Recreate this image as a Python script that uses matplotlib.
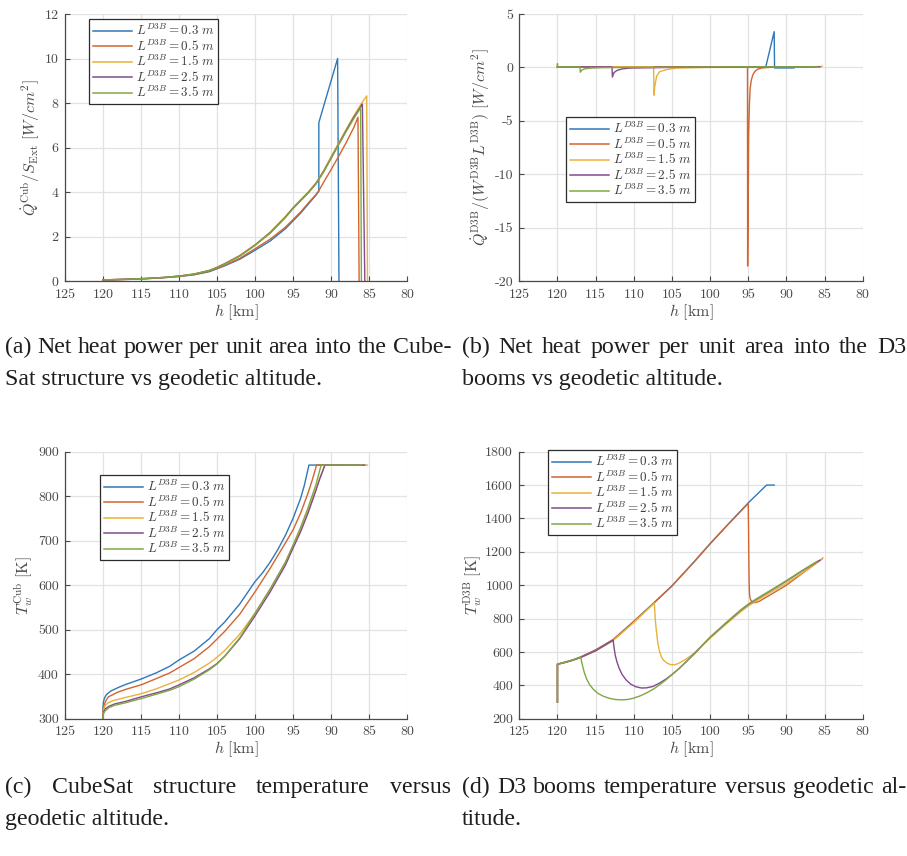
import matplotlib
matplotlib.use("Agg")
import matplotlib.pyplot as plt
from matplotlib.lines import Line2D

plt.rcParams.update({
    "mathtext.fontset": "cm",
    "axes.unicode_minus": False,
    "font.family": "serif",
    "font.serif": ["cmr10", "DejaVu Serif"],
    "axes.formatter.use_mathtext": True,
})

# ---------------------------------------------------------------- data
boom_lengths = ["0.3", "0.5", "1.5", "2.5", "3.5"]
colors = ["#2f78b8", "#d2652f", "#e8b23c", "#834a8c", "#7ea843"]

x_ticks = [125, 120, 115, 110, 105, 100, 95, 90, 85, 80]

# (a) net heat power per unit area into the CubeSat structure [W/cm^2]
h_qcub_03 = [120, 118, 116, 114, 112, 110, 108, 106, 105, 104, 102, 100, 98, 96,
             95, 94, 93, 92, 91.6, 91.6, 89.13, 88.95]
qcub_03 = [0.04, 0.06, 0.08, 0.11, 0.15, 0.20, 0.28, 0.42, 0.55, 0.68, 0.98, 1.38,
           1.80, 2.35, 2.70, 3.05, 3.45, 3.85, 4.03, 7.12, 10.0, 0.0]
h_qcub_05 = [120, 118, 116, 114, 112, 110, 108, 106, 105, 104, 102, 100, 98, 96,
             95, 94, 93, 92, 91.6, 91, 90, 89, 88, 87, 86.45, 86.3]
qcub_05 = [0.04, 0.06, 0.08, 0.11, 0.15, 0.21, 0.29, 0.44, 0.57, 0.70, 1.02, 1.45,
           1.88, 2.42, 2.76, 3.10, 3.50, 3.88, 4.06, 4.42, 5.00, 5.60, 6.22, 6.90,
           7.36, 0.0]
h_qcub_15 = [120, 118, 116, 114, 112, 110, 108, 106, 105, 104, 102, 100, 98, 96,
             95, 94, 93, 92, 91, 90, 89, 88, 87, 86, 85.3, 85.2]
qcub_15 = [0.05, 0.07, 0.09, 0.12, 0.16, 0.22, 0.32, 0.48, 0.62, 0.78, 1.15, 1.63,
           2.20, 2.90, 3.30, 3.65, 4.00, 4.40, 4.95, 5.58, 6.20, 6.82, 7.42, 7.98,
           8.32, 0.0]
h_qcub_25 = [120, 118, 116, 114, 112, 110, 108, 106, 105, 104, 102, 100, 98, 96,
             95, 94, 93, 92, 91, 90, 89, 88, 87, 86, 85.87, 85.55]
qcub_25 = [0.05, 0.07, 0.09, 0.12, 0.16, 0.22, 0.31, 0.47, 0.61, 0.77, 1.13, 1.61,
           2.17, 2.87, 3.27, 3.62, 3.97, 4.37, 4.90, 5.52, 6.14, 6.76, 7.36, 7.88,
           7.95, 0.0]
h_qcub_35 = [120, 118, 116, 114, 112, 110, 108, 106, 105, 104, 102, 100, 98, 96,
             95, 94, 93, 92, 91, 90, 89, 88, 87, 86.1, 86.0]
qcub_35 = [0.05, 0.07, 0.09, 0.12, 0.16, 0.22, 0.31, 0.47, 0.60, 0.76, 1.12, 1.60,
           2.15, 2.85, 3.25, 3.60, 3.95, 4.35, 4.88, 5.50, 6.12, 6.72, 7.30, 7.78,
           0.0]

# (b) net heat power per unit area into the D3 booms [W/cm^2]
h_qd3b_03 = [120, 110, 100, 92.7, 91.6, 91.55, 89.0]
qd3b_03 = [0.05, 0.05, 0.05, 0.05, 3.35, -0.05, -0.05]
h_qd3b_05 = [120, 100, 95.1, 95.08, 95.0, 94.95, 94.85, 94.75, 94.6, 94.4, 94.1,
             93.7, 93.2, 92.0, 86.3]
qd3b_05 = [0.05, 0.05, 0.05, -18.6, -12.5, -6.5, -3.5, -2.0, -1.2, -0.7, -0.35,
           -0.15, -0.05, 0.02, 0.05]
h_qd3b_15 = [120, 107.4, 107.35, 107.25, 107.0, 106.6, 105.7, 104.4, 100, 90,
             85.5, 85.3]
qd3b_15 = [0.05, 0.05, -2.6, -1.8, -0.8, -0.4, -0.2, -0.06, 0.0, 0.03, 0.08, 0.12]
h_qd3b_25 = [120, 112.85, 112.8, 112.6, 112.25, 111.6, 110.5, 105, 95, 85.6]
qd3b_25 = [0.05, 0.05, -0.9, -0.5, -0.3, -0.15, -0.06, 0.0, 0.03, 0.05]
h_qd3b_35 = [120.05, 120.0, 119.95, 117.05, 117.0, 116.8, 116.4, 115.5, 114, 105,
             95, 86.0]
qd3b_35 = [0.0, 0.35, 0.05, 0.05, -0.45, -0.25, -0.12, -0.06, -0.02, 0.02, 0.05,
           0.05]

# (c) CubeSat structure wall temperature [K]
h_tcub_03 = [120, 120, 119.95, 119.85, 119.7, 119.5, 119.2, 119, 118, 117, 115, 113,
             111.2, 110, 108, 106, 105, 104, 102, 100, 99, 98, 97, 96, 95, 94, 93.5,
             92.9, 88.95]
tcub_03 = [300, 326, 336, 344, 350, 355, 359, 362, 370, 377, 389, 403, 418, 432,
           452, 480, 500, 517, 558, 608, 628, 652, 680, 712, 750, 795, 825, 870, 870]
h_tcub_05 = [120, 120, 119.9, 119.8, 119.6, 119.3, 118, 117, 115, 113, 111.2, 110,
             108, 106, 105, 104, 102, 100, 98, 96, 95, 94, 93, 92.4, 91.9, 86.3]
tcub_05 = [300, 318, 327, 333, 341, 349, 360, 366, 376, 390, 403, 415, 435, 462,
           479, 496, 535, 585, 638, 695, 724, 762, 808, 840, 870, 870]
h_tcub_15 = [120, 120, 119.9, 119.7, 119.3, 118.6, 117, 115, 113, 111.2, 110, 108,
             106, 105, 104, 102, 100, 98, 96, 95, 94, 93, 92, 91.5, 90.8, 85.2]
tcub_15 = [300, 311, 321, 330, 336, 341, 348, 356, 367, 379, 387, 404, 425, 438,
           453, 490, 537, 590, 650, 688, 725, 768, 815, 840, 870, 870]
h_tcub_25 = [120, 120, 119.9, 119.7, 119.2, 118.5, 117, 115, 113, 111.2, 110, 108,
             106, 105, 104, 102, 100, 98, 96, 95, 94, 93, 92, 91.5, 90.8, 85.55]
tcub_25 = [300, 308, 316, 322, 328, 333, 339, 349, 358, 367, 376, 392, 412, 424,
           440, 480, 531, 585, 645, 683, 720, 763, 812, 838, 870, 870]
h_tcub_35 = [120, 120, 119.9, 119.7, 119.2, 118.5, 117, 115, 113, 111.2, 110, 108,
             106, 105, 104, 102, 100, 98, 96, 95, 94, 93, 92, 91.3, 86.0]
tcub_35 = [300, 306, 313, 318, 325, 330, 336, 345, 355, 364, 372, 389, 410, 423,
           440, 482, 537, 592, 652, 690, 730, 775, 825, 870, 870]

# (d) D3 booms wall temperature [K]
h_td3b_03 = [120, 120, 119, 118, 117, 115, 112.7, 110, 107.3, 105, 102, 100, 97.5,
             95, 93.5, 92.6, 91.6]
td3b_03 = [300, 527, 539, 552, 569, 612, 674, 783, 897, 996, 1145, 1249, 1372,
           1493, 1560, 1600, 1600]
h_td3b_05 = [120, 120, 119, 118, 117, 115, 112.7, 110, 107.3, 105, 102, 100, 97.5,
             95, 94.97, 94.93, 94.9, 94.87, 94.83, 94.75, 94.6, 94.4, 94.17, 93.8,
             93.5, 92, 90, 88, 86.3, 85.3]
td3b_05 = [300, 527, 539, 552, 569, 611, 673, 782, 896, 995, 1144, 1248, 1371,
           1490, 1380, 1200, 1080, 996, 945, 920, 905, 898, 895, 899, 905, 945,
           1000, 1068, 1125, 1158]
h_td3b_15 = [120, 120, 119, 118, 117, 115, 112.7, 110, 107.3, 107.25, 107.2, 107.1,
             107.0, 106.85, 106.65, 106.4, 106.1, 105.7, 105.3, 105.0, 104.6, 104.2,
             103.8, 103.3, 102.7, 102, 100, 98, 96, 95, 94, 92, 90, 88, 86, 85.2]
td3b_15 = [300, 525, 537, 550, 566, 607, 668, 776, 893, 850, 805, 755, 712, 655,
           608, 573, 550, 535, 526, 523, 524, 530, 540, 553, 572, 597, 682, 763, 840,
           875, 905, 958, 1012, 1072, 1133, 1164]
h_td3b_25 = [120, 120, 119, 118, 117, 115, 112.7, 112.65, 112.55, 112.4, 112.2,
             111.9, 111.5, 111.0, 110.4, 109.7, 109.0, 108.3, 107.5, 106.6, 105.8,
             105, 104, 103.1, 102, 101, 100, 98, 96, 95, 94, 92, 90, 88, 86, 85.6]
td3b_25 = [300, 526, 537, 550, 566, 607, 670, 650, 615, 575, 540, 500, 463, 432,
           407, 391, 384, 385, 393, 414, 437, 464, 503, 543, 592, 641, 688, 770,
           850, 884, 914, 969, 1025, 1084, 1140, 1150]
h_td3b_35 = [120, 120, 119, 118, 116.94, 116.85, 116.7, 116.5, 116.2, 115.8, 115.3,
             114.7, 114.0, 113.2, 112.4, 111.6, 110.8, 110.1, 109.2, 108.3, 107.4,
             106.6, 105.8, 105, 104, 103.1, 102, 101, 100, 98, 96, 95, 94, 92, 90,
             88, 86.0]
td3b_35 = [300, 527, 538, 551, 567, 545, 515, 480, 440, 405, 376, 352, 335, 322,
           315, 313, 315, 322, 336, 355, 378, 404, 432, 464, 503, 543, 591, 640,
           688, 771, 851, 886, 916, 971, 1027, 1086, 1142]

# ---------------------------------------------------------------- figure
W, H = 907, 856
fig = plt.figure(figsize=(W / 100, H / 100), dpi=100)
renderer = fig.canvas.get_renderer()

AX_GREY = "#4a4a4a"
TXT_GREY = "#3c3c3c"
TICK_SIZE = 10
LABEL_SIZE = 11.5


def axes_px(left, top, right, bottom):
    return fig.add_axes([left / W, 1 - bottom / H, (right - left) / W, (bottom - top) / H])


def style_axes(ax, ylim, yticks, box):
    left, top, right, bottom = box
    ax.set_xlim(125, 80)
    ax.set_xticks(x_ticks)
    ax.set_xticklabels([str(v) for v in x_ticks])
    ax.set_ylim(*ylim)
    ax.set_yticks(yticks)
    ax.set_yticklabels([str(v) for v in yticks])
    ax.grid(True, color="#e2e2e2", linewidth=0.9)
    ax.set_axisbelow(True)
    for side in ("top", "right"):
        ax.spines[side].set_visible(False)
    for side in ("left", "bottom"):
        ax.spines[side].set_color(AX_GREY)
        ax.spines[side].set_linewidth(0.9)
    ax.tick_params(direction="in", length=3.5, width=0.8, color=AX_GREY,
                   labelcolor=AX_GREY, labelsize=TICK_SIZE)
    ax.tick_params(axis="x", pad=5.5)
    ax.tick_params(axis="y", pad=4.5)
    ax.set_xlabel(r"$h\ [\mathrm{km}]$", fontsize=LABEL_SIZE, color=AX_GREY)
    ax.xaxis.set_label_coords(0.5, -21 / (bottom - top))


def add_legend(ax, x, y):
    handles = [Line2D([], [], color=c, lw=1.1) for c in colors]
    labels = [r"$L^{D3B} = %s\ m$" % L for L in boom_lengths]
    leg = ax.legend(handles, labels, loc="upper left",
                    bbox_to_anchor=(x / W, 1 - y / H), bbox_transform=fig.transFigure,
                    fontsize=9.4, frameon=True, fancybox=False, framealpha=1,
                    edgecolor="#2b2b2b", borderpad=0.3, labelspacing=0.02,
                    handlelength=3.0, handletextpad=0.3, borderaxespad=0)
    leg.get_frame().set_linewidth(0.9)
    for t in leg.get_texts():
        t.set_color(TXT_GREY)


def plot_series(ax, hs, vs):
    for h, v, c in zip(hs, vs, colors):
        ax.plot(h, v, color=c, lw=1.0)


box_a = (65, 14, 407, 281)
box_b = (519.3, 14, 862.7, 281)
box_c = (65, 451.7, 407, 718.7)
box_d = (519.3, 451.7, 862.7, 718.7)

# (a)
ax_a = axes_px(*box_a)
plot_series(ax_a, [h_qcub_03, h_qcub_05, h_qcub_15, h_qcub_25, h_qcub_35],
            [qcub_03, qcub_05, qcub_15, qcub_25, qcub_35])
style_axes(ax_a, (0, 12), [0, 2, 4, 6, 8, 10, 12], box_a)
ax_a.set_ylabel(r"$\dot{Q}^{\mathrm{Cub}}/S_{\mathrm{Ext}}\ [W/cm^2]$",
                fontsize=LABEL_SIZE, color=AX_GREY)
ax_a.yaxis.set_label_coords((42 - 65) / 342, 0.5)
add_legend(ax_a, 89, 19)

# (b)
ax_b = axes_px(*box_b)
plot_series(ax_b, [h_qd3b_03, h_qd3b_05, h_qd3b_15, h_qd3b_25, h_qd3b_35],
            [qd3b_03, qd3b_05, qd3b_15, qd3b_25, qd3b_35])
style_axes(ax_b, (-20, 5), [-20, -15, -10, -5, 0, 5], box_b)
ax_b.set_ylabel(r"$\dot{Q}^{\mathrm{D3B}}/(W^{\mathrm{D3B}}L^{\mathrm{D3B}})\ [W/cm^2]$",
                fontsize=LABEL_SIZE, color=AX_GREY)
ax_b.yaxis.set_label_coords((492 - 519.3) / 343.4, 0.5)
add_legend(ax_b, 566, 117)

# (c)
ax_c = axes_px(*box_c)
plot_series(ax_c, [h_tcub_03, h_tcub_05, h_tcub_15, h_tcub_25, h_tcub_35],
            [tcub_03, tcub_05, tcub_15, tcub_25, tcub_35])
style_axes(ax_c, (300, 900), list(range(300, 901, 100)), box_c)
ax_c.set_ylabel(r"$T_w^{\mathrm{Cub}}\ [\mathrm{K}]$", fontsize=LABEL_SIZE, color=AX_GREY)
ax_c.yaxis.set_label_coords((35 - 65) / 342, 0.5)
add_legend(ax_c, 100, 475)

# (d)
ax_d = axes_px(*box_d)
plot_series(ax_d, [h_td3b_03, h_td3b_05, h_td3b_15, h_td3b_25, h_td3b_35],
            [td3b_03, td3b_05, td3b_15, td3b_25, td3b_35])
style_axes(ax_d, (200, 1800), list(range(200, 1801, 200)), box_d)
ax_d.set_ylabel(r"$T_w^{\mathrm{D3B}}\ [\mathrm{K}]$", fontsize=LABEL_SIZE, color=AX_GREY)
ax_d.yaxis.set_label_coords((484 - 519.3) / 343.4, 0.5)
add_legend(ax_d, 548, 450)

# ---------------------------------------------------------------- captions
CAP_FONT = "Liberation Serif"
CAP_COLOR = "#1e1e1e"


def text_width(s, size):
    t = fig.text(0, 0, s, fontsize=size, family=CAP_FONT)
    w = t.get_window_extent(renderer).width
    t.remove()
    return w


first_line = "(a) Net heat power per unit area into the Cube-"
cap_size = 10 * 446 / text_width(first_line, 10)


def caption_line(s, x0, x1, ybase, justify):
    if not justify:
        fig.text(x0 / W, 1 - ybase / H, s, fontsize=cap_size, family=CAP_FONT,
                 color=CAP_COLOR, va="baseline", ha="left")
        return
    words = s.split()
    widths = [text_width(w, cap_size) for w in words]
    gap = (x1 - x0 - sum(widths)) / (len(words) - 1)
    x = x0
    for w, wd in zip(words, widths):
        fig.text(x / W, 1 - ybase / H, w, fontsize=cap_size, family=CAP_FONT,
                 color=CAP_COLOR, va="baseline", ha="left")
        x += wd + gap


caption_line(first_line, 5, 451, 353, True)
caption_line("Sat structure vs geodetic altitude.", 5, 451, 385, False)
caption_line("(b) Net heat power per unit area into the D3", 462, 906, 353, True)
caption_line("booms vs geodetic altitude.", 462, 906, 385, False)
caption_line("(c) CubeSat structure temperature versus", 5, 451, 793, True)
caption_line("geodetic altitude.", 5, 451, 825, False)
caption_line("(d) D3 booms temperature versus geodetic al-", 462, 906, 793, True)
caption_line("titude.", 462, 906, 825, False)

fig.savefig("out.png", dpi=100)
